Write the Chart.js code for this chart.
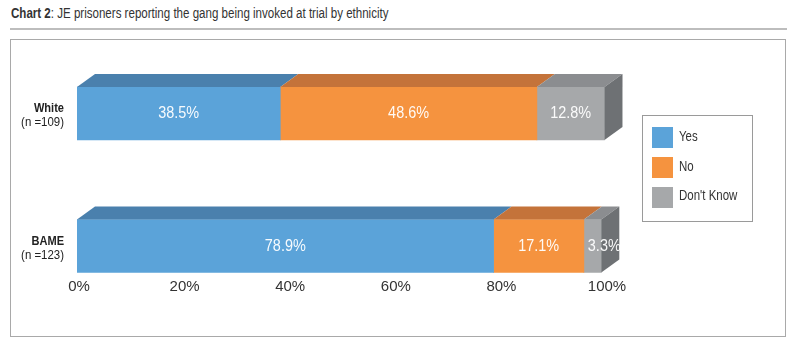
<!DOCTYPE html>
<html>
<head>
<meta charset="utf-8">
<script src="https://cdn.jsdelivr.net/npm/chart.js@4.4.1/dist/chart.umd.min.js"></script>
<style>
  body { margin: 0; background: #fff; }
  #wrap { position: relative; width: 800px; height: 350px; font-family: 'Liberation Sans', Arial, sans-serif; color: #333; }
  #title { position: absolute; left: 11px; top: 5px; font-size: 14px; white-space: nowrap; transform: scaleX(0.825); transform-origin: left top; }
  #rule { position: absolute; left: 10px; top: 28px; width: 777px; border-top: 2px solid #bdbdbd; }
  #box { position: absolute; left: 10px; top: 39px; width: 774px; height: 296px; border: 1px solid #a9a9a9; }
  #holder { position: absolute; left: 0; top: 0; width: 800px; height: 350px; }
</style>
</head>
<body>
<div id="wrap">
  <div id="title"><b>Chart 2</b>: JE prisoners reporting the gang being invoked at trial by ethnicity</div>
  <div id="rule"></div>
  <div id="box"></div>
  <div id="holder"><canvas id="myChart"></canvas></div>
</div>
<script>
const groups = ['White', 'BAME'];
const groupN = ['(n =109)', '(n =123)'];
const yesPct = [38.5, 78.9];
const noPct = [48.6, 17.1];
const dkPct = [12.8, 3.3];

const FONT = "'Liberation Sans', Arial, sans-serif";
const dx = 18, dy = 13;

// canvas text squeezed horizontally, the reference uses a condensed face
function narrowText(ctx, text, x, y, sx) {
  ctx.save();
  ctx.translate(x, y);
  ctx.scale(sx, 1);
  ctx.fillText(text, 0, 0);
  ctx.restore();
}

// 3D faces, value labels, category labels and the boxed legend
const bar3d = {
  id: 'bar3d',
  afterDatasetsDraw(chart) {
    const ctx = chart.ctx;
    const sets = chart.data.datasets;
    ctx.save();
    sets.forEach((ds, d) => {
      chart.getDatasetMeta(d).data.forEach((bar) => {
        const x0 = bar.base, x1 = bar.x;
        const top = bar.y - bar.height / 2, bottom = bar.y + bar.height / 2;
        ctx.fillStyle = ds.topColor;
        ctx.beginPath();
        ctx.moveTo(x0, top);
        ctx.lineTo(x1, top);
        ctx.lineTo(x1 + dx, top - dy);
        ctx.lineTo(x0 + dx, top - dy);
        ctx.closePath();
        ctx.fill();
        if (d === sets.length - 1) {
          ctx.fillStyle = ds.sideColor;
          ctx.beginPath();
          ctx.moveTo(x1, top);
          ctx.lineTo(x1 + dx, top - dy);
          ctx.lineTo(x1 + dx, bottom - dy);
          ctx.lineTo(x1, bottom);
          ctx.closePath();
          ctx.fill();
        }
      });
    });
    ctx.fillStyle = 'rgba(255,255,255,0.95)';
    ctx.font = '17px ' + FONT;
    ctx.textAlign = 'center';
    ctx.textBaseline = 'middle';
    sets.forEach((ds, d) => {
      chart.getDatasetMeta(d).data.forEach((bar, i) => {
        let cx = (bar.base + bar.x) / 2;
        if (bar.x - bar.base < 30) cx = bar.x + 3;
        narrowText(ctx, ds.data[i].toFixed(1) + '%', cx, bar.y, 0.85);
      });
    });
    ctx.restore();
  },
  afterDraw(chart) {
    const ctx = chart.ctx;
    const ys = chart.scales.y;
    ctx.save();
    ctx.fillStyle = '#222';
    ctx.textAlign = 'right';
    ctx.textBaseline = 'middle';
    groups.forEach((g, i) => {
      const y = ys.getPixelForValue(i);
      ctx.font = 'bold 13px ' + FONT;
      narrowText(ctx, g, 64, y - 5, 0.85);
      ctx.font = '13px ' + FONT;
      narrowText(ctx, groupN[i], 64, y + 9, 0.88);
    });
    // legend
    ctx.strokeStyle = '#9a9a9a';
    ctx.lineWidth = 1;
    ctx.strokeRect(642.5, 115.5, 110, 106);
    ctx.textAlign = 'left';
    ctx.font = '14px ' + FONT;
    chart.data.datasets.forEach((ds, d) => {
      ctx.fillStyle = ds.backgroundColor;
      ctx.fillRect(652, 127 + d * 30, 21, 21);
      ctx.fillStyle = '#333';
      narrowText(ctx, ds.label, 679, 137.5 + d * 29.5, 0.82);
    });
    ctx.restore();
  }
};

const data = {
  labels: groups,
  datasets: [
    { label: 'Yes', data: yesPct, backgroundColor: '#5ba3d9', topColor: '#4a80ad' },
    { label: 'No', data: noPct, backgroundColor: '#f5933f', topColor: '#c4733a' },
    { label: "Don't Know", data: dkPct, backgroundColor: '#a6a8aa', topColor: '#8b8d90', sideColor: '#6e7174' }
  ]
};

const config = {
  type: 'bar',
  data,
  options: {
    indexAxis: 'y',
    responsive: true,
    maintainAspectRatio: false,
    animation: false,
    barThickness: 53,
    layout: { padding: { left: 77, right: 195, top: 47.25, bottom: 37.75 } },
    plugins: { legend: { display: false }, tooltip: { enabled: false } },
    scales: {
      x: {
        stacked: true,
        min: 0,
        max: 100,
        grid: { display: false, drawTicks: false },
        border: { display: false },
        afterFit: (s) => { s.height = 0; },
        ticks: {
          stepSize: 20,
          autoSkip: false,
          maxRotation: 0,
          mirror: true,
          padding: 16,
          labelOffset: 2,
          color: '#333',
          font: { family: FONT, size: 15 },
          callback: (v) => v + '%'
        }
      },
      y: { stacked: true, display: false }
    }
  },
  plugins: [bar3d]
};

var myChart = new Chart(document.getElementById('myChart'), config);
</script>
</body>
</html>
